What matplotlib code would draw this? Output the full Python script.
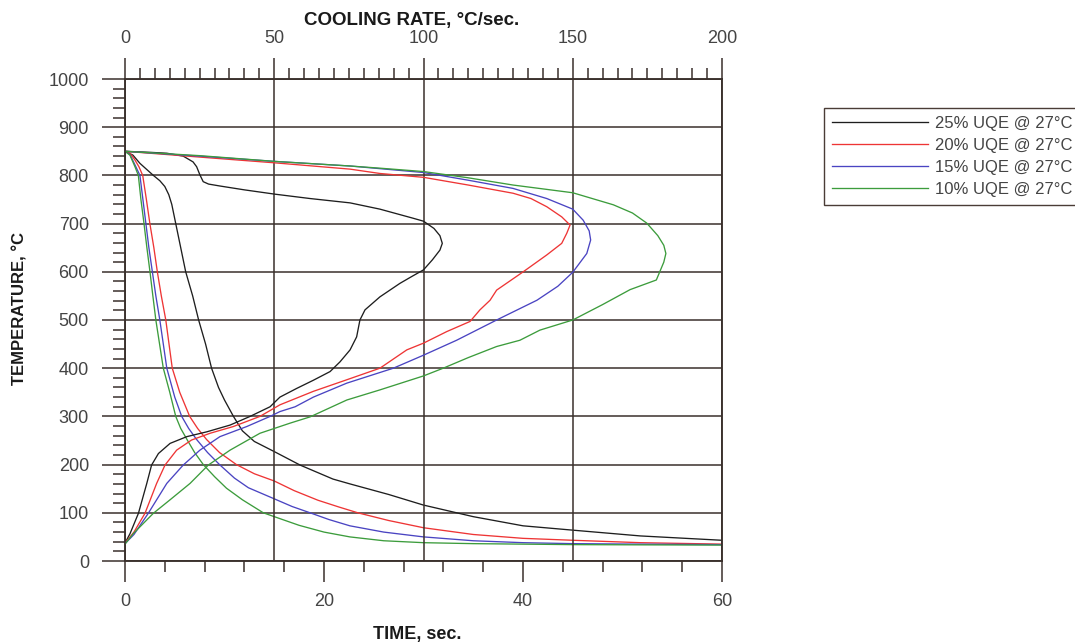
import matplotlib
matplotlib.use('Agg')
import matplotlib.pyplot as plt
from matplotlib.ticker import MultipleLocator, FixedLocator

plt.rcParams['font.family'] = ['Liberation Sans', 'DejaVu Sans']

# Series labels and colours
labels = ['25% UQE @ 27°C', '20% UQE @ 27°C', '15% UQE @ 27°C', '10% UQE @ 27°C']
colors = ['#1e1e1e', '#ee3535', '#4a44c2', '#3c9c3c']

# Cooling curves: temperature (°C) vs time (sec)
t25 = [0, 0.8, 1.5, 2.2, 2.85, 3.5, 4.0, 4.4, 4.7, 5.1, 5.6, 6.1, 6.8, 7.4, 8.1, 8.7, 9.4, 10.0,
       10.9, 11.8, 13.0, 15.0, 17.6, 20.9, 22.6, 26.5, 30.0, 35.0, 40.0, 45.0, 51.8, 60.0]
T25 = [850, 842, 825, 812, 800, 789, 777, 760, 740, 700, 650, 600, 550, 500, 450, 400, 360, 334,
       300, 270, 248, 227, 199, 170, 160, 138, 116, 92, 73, 64, 52, 43]

t20 = [0, 0.5, 1.0, 1.4, 1.78, 2.15, 2.5, 2.9, 3.25, 3.65, 4.1, 4.75, 5.5, 6.5, 7.3, 8.2, 9.5,
       11.2, 13.0, 15.0, 17.0, 19.4, 21.5, 23.4, 26.5, 30.0, 35.0, 40.0, 45.0, 51.8, 60.0]
T20 = [850, 846, 832, 818, 800, 750, 700, 650, 600, 550, 500, 400, 350, 300, 275, 252, 225,
       200, 181, 166, 146, 126, 112, 100, 84, 69, 55, 47, 43, 38, 35]

t15 = [0, 0.5, 1.0, 1.5, 1.8, 2.1, 2.4, 2.75, 3.1, 3.5, 4.2, 5.0, 5.7, 6.4, 7.2, 8.3, 9.5, 11.0,
       12.4, 15.0, 16.8, 18.6, 20.5, 22.6, 26.0, 30.0, 35.0, 40.0, 45.0, 51.8, 60.0]
T15 = [850, 843, 822, 800, 750, 700, 650, 600, 550, 500, 400, 340, 300, 275, 252, 225, 200, 172,
       152, 129, 113, 100, 86, 73, 60, 50, 42, 38, 36, 35, 34]

t10 = [0, 0.5, 1.0, 1.34, 1.6, 1.91, 2.2, 2.51, 2.8, 3.1, 3.85, 4.5, 5.1, 5.6, 6.26, 7.0, 7.87,
       9.0, 10.2, 11.8, 13.9, 15.0, 17.5, 20.0, 22.6, 26.0, 30.0, 35.0, 40.0, 45.0, 51.8, 60.0]
T10 = [850, 842, 818, 800, 750, 700, 650, 600, 550, 500, 400, 350, 300, 275, 251, 225, 200,
       175, 151, 127, 100, 92, 74, 60, 50, 42, 38, 36, 35, 34, 33.5, 33]

# Cooling rate curves: temperature (°C) vs cooling rate (°C/sec)
r25 = [0, 8, 14, 19.5, 22.8, 24.0, 25.1, 26.2, 28.0, 31.8, 40.0, 50.3, 62.0, 75.4, 85.4, 96.6,
       100.0, 103.5, 105.5, 106.3, 105.5, 103.0, 100.0, 96.0, 92.1, 85.4, 80.4, 78.7, 77.6, 75.4,
       72.0, 68.7, 63.1, 57.5, 51.9, 48.6, 41.9, 35.2, 27.4, 20.7, 15.1, 11.2, 8.9, 7.3, 4.5, 1.7, 0]
Tr25 = [850, 848, 846, 840, 828, 818, 801, 787, 782, 778, 770, 761, 752, 743, 730, 711,
        705, 690, 675, 659, 645, 625, 604, 590, 576, 548, 521, 500, 465, 438,
        413, 393, 375, 358, 340, 320, 300, 282, 268, 258, 244, 223, 199, 161, 99, 57, 37]

r20 = [0, 25, 50.3, 75.4, 85.4, 100, 115, 130, 136, 141.3, 146.3, 149.1, 148.0, 146.3, 141.3,
       133.4, 124.5, 122.3, 118.9, 115.6, 107.8, 100.0, 94.4, 85.4, 74.3, 63.1, 51.9, 45.2, 36.3,
       28.5, 22.3, 17.3, 13.4, 10.6, 6.7, 3.0, 0]
Tr20 = [850, 838, 826, 813, 804, 796, 780, 763, 752, 735, 714, 697, 680, 659, 635,
        600, 562, 541, 521, 497, 476, 452, 438, 400, 376, 352, 324, 300, 279,
        265, 251, 230, 199, 161, 99, 60, 37]

r15 = [0, 25, 50.3, 75.4, 85.4, 100, 115, 130, 141.3, 150, 153.5, 155.5, 156, 154.7, 150, 145,
       138, 124.5, 111.1, 100, 89.9, 74.3, 63.1, 57, 51.9, 48.6, 40.8, 31.8, 25.1, 19.5, 14.0,
       7.8, 3.0, 0]
Tr15 = [850, 840, 829, 819.5, 814, 806, 790, 773, 752, 730, 707, 685, 666, 638, 599, 570,
        541, 500, 458, 427, 400, 369, 340, 320, 310, 300, 279, 258, 230, 199, 161,
        99, 55, 36]

r10 = [0, 25, 50.3, 75.4, 85.4, 100, 115, 130, 150, 163.6, 170, 174.8, 178.5, 180.5, 181.2,
       180.5, 178, 169.2, 160, 150, 139, 132.3, 124.5, 115, 106.6, 100, 85.4, 74.3, 62, 55.3,
       45.2, 35.2, 27.9, 21.8, 15.1, 9.5, 2.8, 0]
Tr10 = [850, 841, 829, 819.5, 815, 808, 795, 780, 764, 739, 722, 701, 675, 655, 638,
        620, 583, 563, 532, 500, 479, 458, 445, 422, 400, 384, 355, 334, 299, 286,
        265, 230, 199, 161, 127, 99, 57, 35]

time_data = [(t25, T25), (t20, T20), (t15, T15), (t10, T10)]
rate_data = [(r25, Tr25), (r20, Tr20), (r15, Tr15), (r10, Tr10)]

grid_col = '#3a302c'
text_col = '#444444'

fig = plt.figure(figsize=(10.75, 6.42), dpi=100)
ax = fig.add_axes([125 / 1075, 81 / 642, 597 / 1075, 482 / 642])
ax2 = ax.twiny()

ax.set_xlim(0, 60)
ax.set_ylim(0, 1000)
ax2.set_xlim(0, 200)

# bottom axis (time)
ax.xaxis.set_major_locator(FixedLocator([0, 20, 40, 60]))
ax.xaxis.set_minor_locator(MultipleLocator(4))
ax.yaxis.set_major_locator(MultipleLocator(100))
ax.yaxis.set_minor_locator(MultipleLocator(20))
ax.tick_params(axis='x', which='major', direction='out', length=15, width=1.1, pad=8,
               labelsize=13, color=grid_col, labelcolor=text_col)
ax.tick_params(axis='x', which='minor', direction='out', length=8, width=1.1, color=grid_col)
ax.tick_params(axis='y', which='major', direction='out', length=16.8, width=1.1, pad=9.2,
               labelsize=13, color=grid_col, labelcolor=text_col)
ax.tick_params(axis='y', which='minor', direction='out', length=8.6, width=1.1, color=grid_col)

# top axis (cooling rate)
ax2.xaxis.set_major_locator(MultipleLocator(50))
ax2.xaxis.set_minor_locator(MultipleLocator(5))
ax2.tick_params(axis='x', which='major', direction='out', length=15, width=1.1, pad=8,
                labelsize=13, color=grid_col, labelcolor=text_col)
ax2.tick_params(axis='x', which='minor', direction='out', length=7.7, width=1.1, color=grid_col)

ax.yaxis.grid(True, which='major', color=grid_col, linewidth=1.1)
ax2.xaxis.grid(True, which='major', color=grid_col, linewidth=1.1)
ax.set_axisbelow(True)
ax2.set_axisbelow(True)

for a in (ax, ax2):
    for sp in a.spines.values():
        sp.set_color(grid_col)
        sp.set_linewidth(1.1)

handles = []
for (t, T), c in zip(time_data, colors):
    ln, = ax.plot(t, T, color=c, linewidth=0.95)
    handles.append(ln)
for (r, T), c in zip(rate_data, colors):
    ax2.plot(r, T, color=c, linewidth=0.95)

leg = ax.legend(handles, labels, loc='upper left', bbox_to_anchor=(824 / 1075, 1 - 108 / 642),
                bbox_transform=fig.transFigure, borderaxespad=0, fontsize=12,
                handlelength=5.75, handletextpad=0.42, borderpad=0.5, labelspacing=0.41,
                fancybox=False, framealpha=1, edgecolor='#4a3c36', labelcolor=text_col)
leg.get_frame().set_linewidth(1.0)

fig.text(412 / 1075, 1 - 21 / 642, 'COOLING RATE, °C/sec.', ha='center', va='center',
         fontsize=13.5, fontweight='bold', color='#1a1a1a')
fig.text(417.5 / 1075, 1 - 626 / 642, 'TIME, sec.', ha='center', va='top',
         fontsize=13, fontweight='bold', color='#1a1a1a')
fig.text(20 / 1075, 1 - 308 / 642, 'TEMPERATURE, °C', rotation=90, ha='center', va='center',
         fontsize=12, fontweight='bold', color='#1a1a1a')

fig.savefig('out.png', dpi=100)
